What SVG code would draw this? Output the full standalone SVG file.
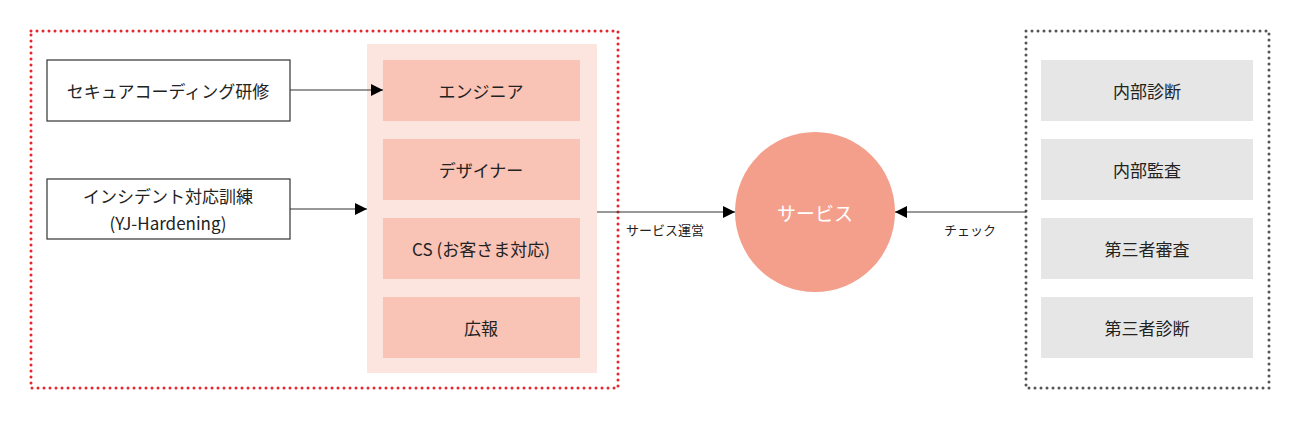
<svg xmlns="http://www.w3.org/2000/svg" width="1300" height="421" viewBox="0 0 1300 421">
<style>
text{font-family:"Noto Sans CJK JP","Liberation Sans",sans-serif;font-size:17px;fill:#222;text-anchor:middle;dominant-baseline:central}
.w{fill:#fff;stroke:#333;stroke-width:1.2}
.r{fill:#f9c3b6}
.g{fill:#e6e6e6}
.c{stroke:#333;stroke-width:1.2;fill:none}
.s{font-size:13px}
</style>
<defs><marker id="a" viewBox="0 0 10 10" refX="10" refY="5" markerWidth="12" markerHeight="18" markerUnits="userSpaceOnUse" orient="auto"><path d="M0,0L10,5L0,10z" fill="#000"/></marker></defs>
<rect x="31" y="31" width="587" height="357" fill="none" stroke="#e8262d" stroke-width="3" stroke-dasharray="0 6" stroke-linecap="round"/>
<rect x="1026" y="31" width="243" height="357" fill="none" stroke="#555" stroke-width="3" stroke-dasharray="0 6" stroke-linecap="round"/>
<rect x="367" y="44" width="230" height="329" fill="#fde5df"/>
<g id="n1"><rect class="w" x="47" y="60" width="243" height="61"/><text x="168" y="90">セキュアコーディング研修</text></g>
<g id="n2"><rect class="w" x="47" y="179" width="243" height="60"/><text x="168" y="195">インシデント対応訓練</text><text x="168" y="222">(YJ-Hardening)</text></g>
<g id="r1"><rect class="r" x="383" y="60" width="197" height="61"/><text x="481" y="90">エンジニア</text></g>
<g id="r2"><rect class="r" x="383" y="139" width="197" height="61"/><text x="481" y="169">デザイナー</text></g>
<g id="r3"><rect class="r" x="383" y="218" width="197" height="61"/><text x="481" y="248">CS (お客さま対応)</text></g>
<g id="r4"><rect class="r" x="383" y="297" width="197" height="61"/><text x="481" y="327">広報</text></g>
<g id="svc"><circle cx="815" cy="212" r="80" fill="#f49f8c"/><text x="815" y="212" style="fill:#fff;font-size:19px">サービス</text></g>
<g id="g1"><rect class="g" x="1041" y="60" width="212" height="61"/><text x="1147" y="90">内部診断</text></g>
<g id="g2"><rect class="g" x="1041" y="139" width="212" height="61"/><text x="1147" y="169">内部監査</text></g>
<g id="g3"><rect class="g" x="1041" y="218" width="212" height="61"/><text x="1147" y="248">第三者審査</text></g>
<g id="g4"><rect class="g" x="1041" y="297" width="212" height="61"/><text x="1147" y="327">第三者診断</text></g>
<g id="connectors">
<path class="c" d="M290 90H383" marker-end="url(#a)"/>
<path class="c" d="M290 209H367" marker-end="url(#a)"/>
<path class="c" d="M597 212H735" marker-end="url(#a)"/>
<path class="c" d="M1026 212H895" marker-end="url(#a)"/>
<text class="s" x="665" y="229">サービス運営</text>
<text class="s" x="970" y="229">チェック</text>
</g>
</svg>
